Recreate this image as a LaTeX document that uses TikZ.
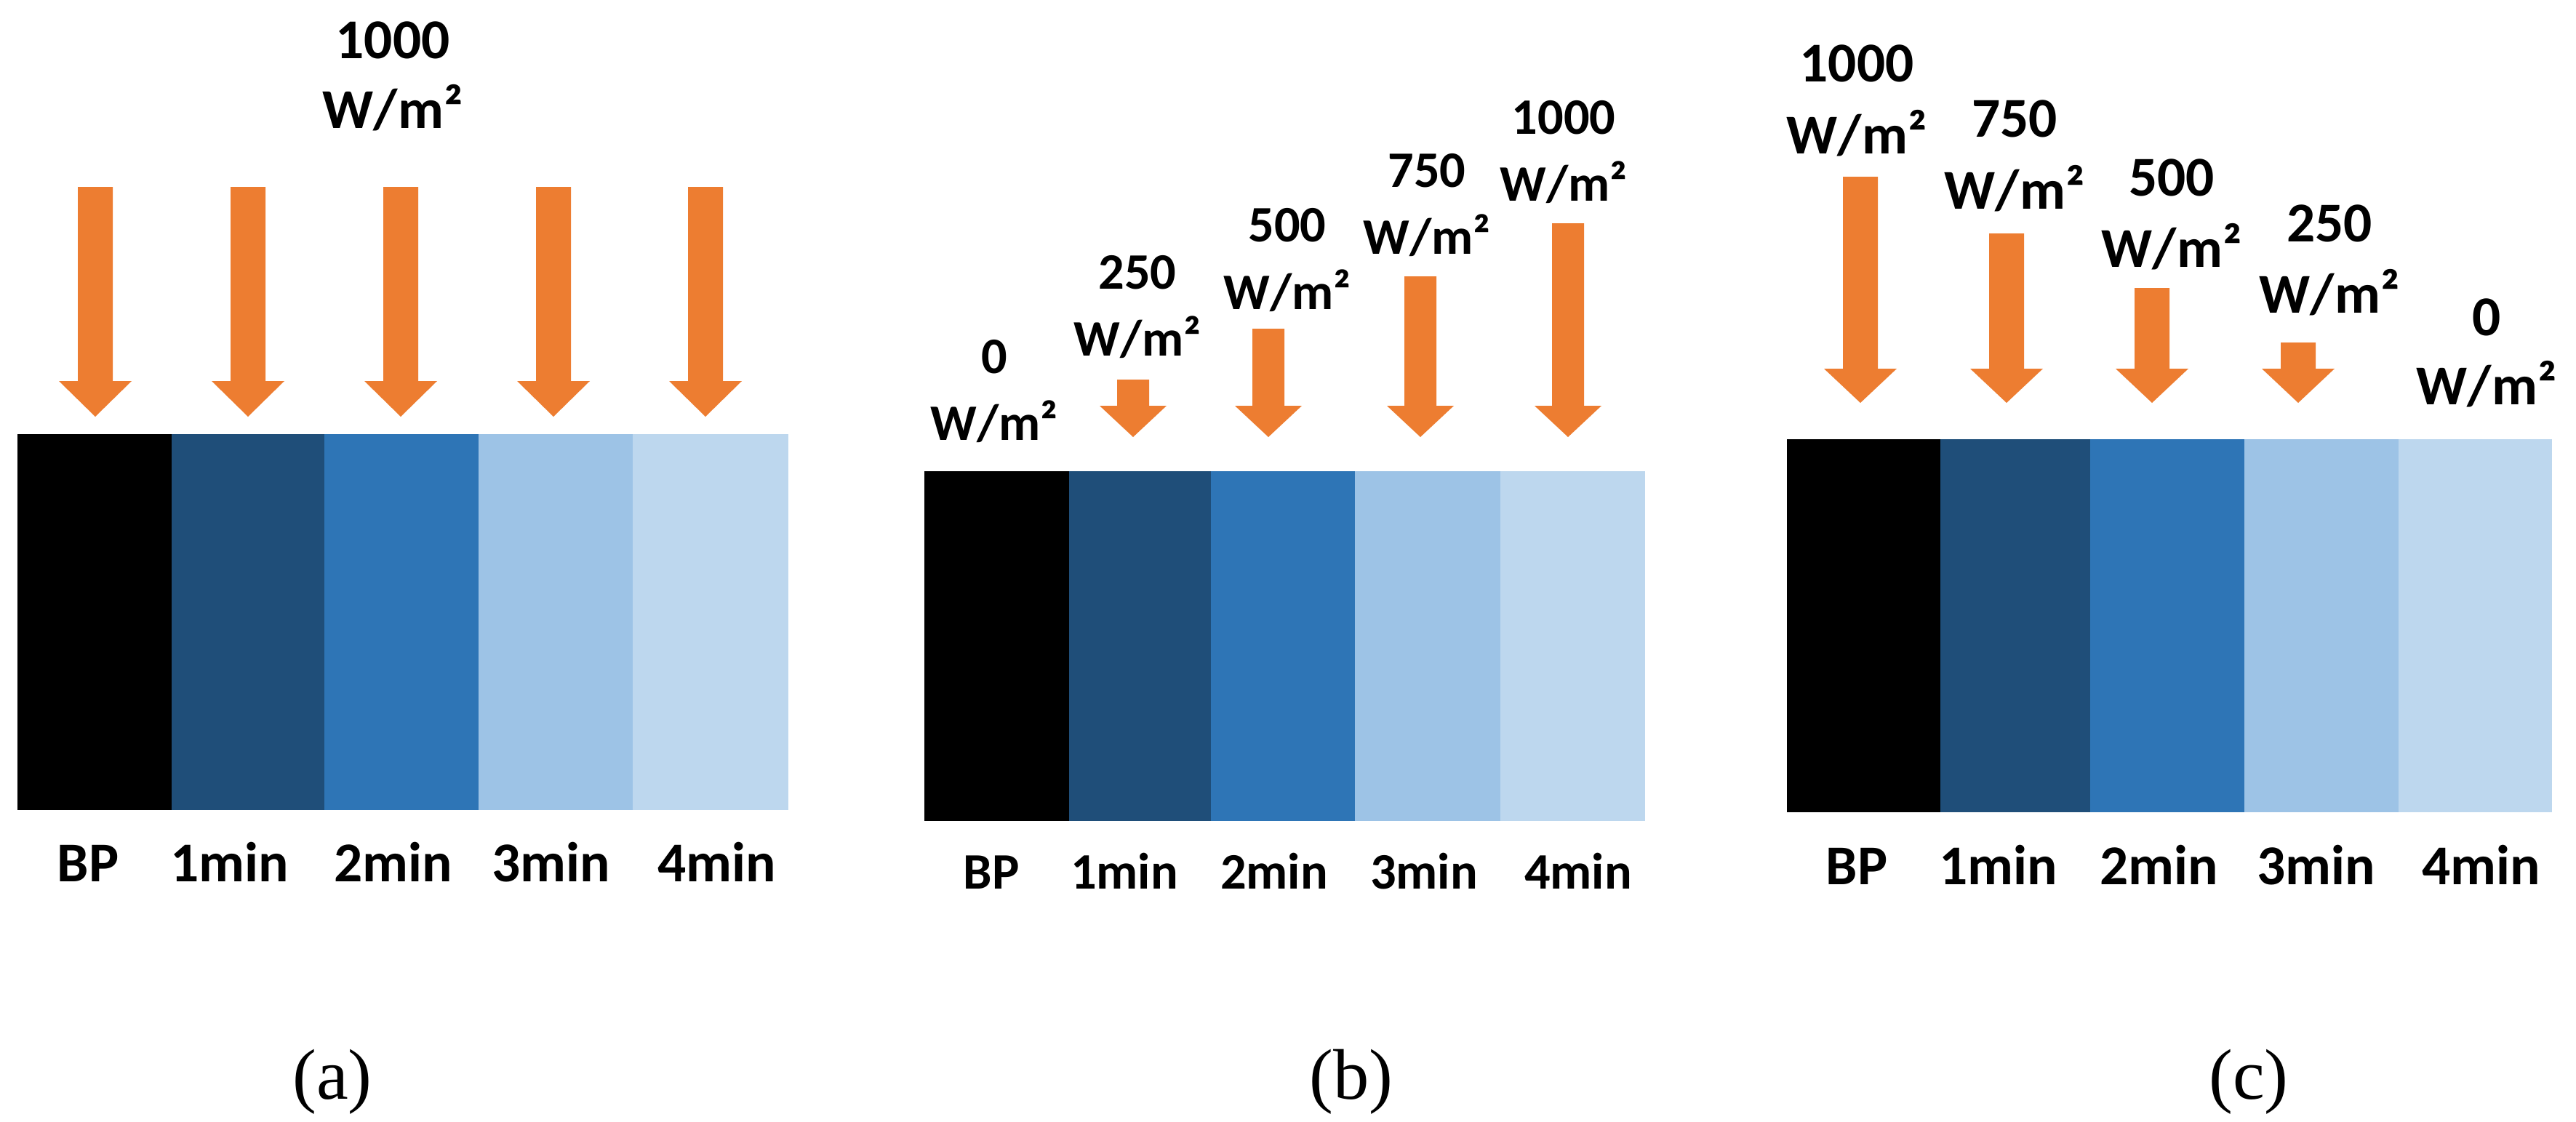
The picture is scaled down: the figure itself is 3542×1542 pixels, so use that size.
\documentclass[tikz,border=0pt]{standalone}
\usepackage{fontspec}
\setmainfont{Liberation Serif}
\newfontfamily\lblfont{Carlito}
\definecolor{arrowor}{HTML}{ED7D31}
\definecolor{sOne}{HTML}{1F4E79}
\definecolor{sTwo}{HTML}{2E75B6}
\definecolor{sThree}{HTML}{9DC3E6}
\definecolor{sFour}{HTML}{BDD7EE}
\newcommand\sunarrow[6]{% centre x, shaft top, head base, tip, shaft half width, head half width
  \fill[sunfill] ({#1-#5},#2) -- ({#1+#5},#2) -- ({#1+#5},#3) -- ({#1+#6},#3) -- (#1,#4) -- ({#1-#6},#3) -- ({#1-#5},#3) -- cycle;}
\tikzset{
  sunfill/.style={fill=arrowor, draw=none},
  bigtxt/.style={font={\lblfont\bfseries\fontsize{22}{26}\selectfont}, inner sep=0pt, anchor=base},
  smalltxt/.style={font={\lblfont\bfseries\fontsize{20}{24}\selectfont}, inner sep=0pt, anchor=base},
  captxt/.style={font={\fontsize{28}{32}\selectfont}, inner sep=0pt, anchor=base},
}
\begin{document}
\begin{tikzpicture}[x=0.01cm, y=-0.01cm]
\useasboundingbox (0,0) rectangle (3542,1542);
\fill[white] (0,0) rectangle (3542,1542);

% ---------- panel (a) ----------
\fill[black]  (24,597)  rectangle (236,1114);
\fill[sOne]   (236,597) rectangle (446,1114);
\fill[sTwo]   (446,597) rectangle (658,1114);
\fill[sThree] (658,597) rectangle (870,1114);
\fill[sFour]  (870,597) rectangle (1084,1114);
\sunarrow{131}{257}{524}{573}{24}{50}
\sunarrow{341}{257}{524}{573}{24}{50}
\sunarrow{551}{257}{524}{573}{24}{50}
\sunarrow{761}{257}{524}{573}{24}{50}
\sunarrow{970}{257}{524}{573}{24}{50}
\node[bigtxt] (a-v) at (540,80) {1000};
\node[bigtxt] (a-u) at (540,176) {W/m²};
\node[bigtxt] (a-l0) at (121,1212) {BP};
\node[bigtxt] (a-l1) at (316,1212) {1min};
\node[bigtxt] (a-l2) at (541,1212) {2min};
\node[bigtxt] (a-l3) at (758,1212) {3min};
\node[bigtxt] (a-l4) at (986,1212) {4min};
\node[captxt] (cap-a) at (457,1511) {(a)};

% ---------- panel (b) ----------
\fill[black]  (1271,648)   rectangle (1470,1129);
\fill[sOne]   (1470,648)   rectangle (1665,1129);
\fill[sTwo]   (1665,648)   rectangle (1863,1129);
\fill[sThree] (1863,648)   rectangle (2062.5,1129);
\fill[sFour]  (2062.5,648) rectangle (2262,1129);
\sunarrow{1558}{522}{558}{601}{22}{46}
\sunarrow{1744}{452}{558}{601}{22}{46}
\sunarrow{1953}{380}{558}{601}{22}{46}
\sunarrow{2156}{307}{558}{601}{22}{46}
\node[smalltxt] (b-v0) at (1367,513) {0};
\node[smalltxt] (b-u0) at (1367,605) {W/m²};
\node[smalltxt] (b-v1) at (1564,397) {250};
\node[smalltxt] (b-u1) at (1564,489) {W/m²};
\node[smalltxt] (b-v2) at (1770,332) {500};
\node[smalltxt] (b-u2) at (1770,425) {W/m²};
\node[smalltxt] (b-v3) at (1962,257) {750};
\node[smalltxt] (b-u3) at (1962,349) {W/m²};
\node[smalltxt] (b-v4) at (2150,184) {1000};
\node[smalltxt] (b-u4) at (2150,276) {W/m²};
\node[smalltxt] (b-l0) at (1363,1222) {BP};
\node[smalltxt] (b-l1) at (1546,1222) {1min};
\node[smalltxt] (b-l2) at (1752,1222) {2min};
\node[smalltxt] (b-l3) at (1958,1222) {3min};
\node[smalltxt] (b-l4) at (2170,1222) {4min};
\node[captxt] (cap-b) at (1858,1511) {(b)};

% ---------- panel (c) ----------
\fill[black]  (2457,604)   rectangle (2667.5,1117);
\fill[sOne]   (2667.5,604) rectangle (2873.5,1117);
\fill[sTwo]   (2873.5,604) rectangle (3086,1117);
\fill[sThree] (3086,604)   rectangle (3297.5,1117);
\fill[sFour]  (3297.5,604) rectangle (3508.6,1117);
\sunarrow{2558}{243}{507}{554}{24}{50}
\sunarrow{2759}{321}{507}{554}{24}{50}
\sunarrow{2959}{396}{507}{554}{24}{50}
\sunarrow{3160}{471}{507}{554}{24}{50}
\node[bigtxt] (c-v0) at (2553,112) {1000};
\node[bigtxt] (c-u0) at (2553,211) {W/m²};
\node[bigtxt] (c-v1) at (2770,188) {750};
\node[bigtxt] (c-u1) at (2770,287) {W/m²};
\node[bigtxt] (c-v2) at (2986,269) {500};
\node[bigtxt] (c-u2) at (2986,367) {W/m²};
\node[bigtxt] (c-v3) at (3203,332) {250};
\node[bigtxt] (c-u3) at (3203,430) {W/m²};
\node[bigtxt] (c-v4) at (3419,461) {0};
\node[bigtxt] (c-u4) at (3419,556) {W/m²};
\node[bigtxt] (c-l0) at (2553,1216) {BP};
\node[bigtxt] (c-l1) at (2748,1216) {1min};
\node[bigtxt] (c-l2) at (2969,1216) {2min};
\node[bigtxt] (c-l3) at (3185,1216) {3min};
\node[bigtxt] (c-l4) at (3412,1216) {4min};
\node[captxt] (cap-c) at (3092,1511) {(c)};
\end{tikzpicture}
\end{document}
